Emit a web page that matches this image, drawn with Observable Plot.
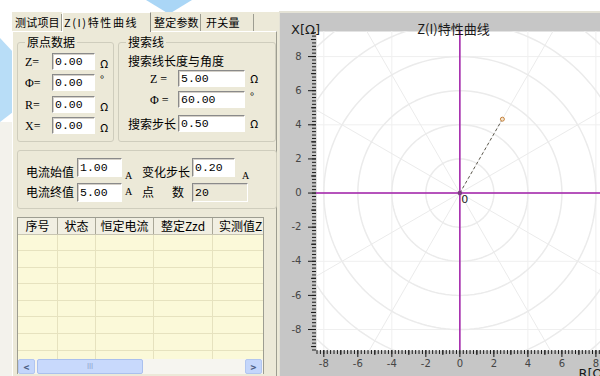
<!DOCTYPE html>
<html><head><meta charset="utf-8">
<script src="https://cdn.jsdelivr.net/npm/d3@7"></script>
<script src="https://cdn.jsdelivr.net/npm/@observablehq/plot@0.6"></script>
<style>
html,body{margin:0;padding:0;background:#fff;}
#root{position:relative;width:600px;height:376px;overflow:hidden;background:#fff;font-family:"Noto Sans CJK SC","Noto Sans",sans-serif;font-size:12px;color:#000;}
.a{position:absolute;box-sizing:border-box;}
.lbl{position:absolute;line-height:16px;white-space:nowrap;}
.inp{position:absolute;box-sizing:border-box;background:#fff;border-top:1px solid #8a8a8a;border-left:1px solid #8a8a8a;border-bottom:1px solid #fff;border-right:1px solid #fff;box-shadow:inset 1px 1px 0 #d4d0c8;font-family:"Liberation Mono","DejaVu Sans Mono",monospace;font-size:11.5px;padding-left:2px;white-space:nowrap;overflow:hidden;}
.grp{position:absolute;box-sizing:border-box;border:1px solid #cfcdbd;border-radius:3px;}
.leg{position:absolute;background:#ece9d8;padding:0 2px;line-height:16px;white-space:nowrap;}
</style></head>
<body><div id="root"></div>
<script>
// ---------- data ----------
const tabs = ["测试项目", "Z(I)特性曲线", "整定参数", "开关量"];
const originLabels = ["Z=", "Φ=", "R=", "X="];
const originValues = ["0.00", "0.00", "0.00", "0.00"];
const originUnits = ["Ω", "°", "Ω", "Ω"];
const searchLabels = ["Z =", "Φ =", "搜索步长"];
const searchValues = ["5.00", "60.00", "0.50"];
const searchUnits = ["Ω", "°", "Ω"];
const searchZ = 5.0;      // Ω
const searchPhi = 60.0;   // degrees
const currentLabels = ["电流始值", "变化步长", "电流终值"];
const currentValues = ["1.00", "0.20", "5.00"];
const pointCount = "20";
const tableHeaders = ["序号", "状态", "恒定电流", "整定Zzd", "实测值Z"];
const xTicks = [-8, -6, -4, -2, 0, 2, 4, 6, 8];
const yTicks = [8, 6, 4, 2, 0, -2, -4, -6, -8];
const gridLines = [-8, -4, 4, 8];
const gridRadii = [2, 4, 6, 8, 10, 12, 14];
const gridAngles = [0, 30, 60, 90, 120, 150, 180, 210, 240, 270, 300, 330];
const chartTitle = "Z(I)特性曲线";
const yLabel = "X[Ω]";
const xLabel = "R[Ω]";

// ---------- left form ----------
const root = document.getElementById("root");
function el(cls, css, text) {
  const d = document.createElement("div");
  d.className = cls;
  Object.assign(d.style, css);
  if (text != null) d.textContent = text;
  root.appendChild(d);
  return d;
}
const px = v => v + "px";
function lbl(t, x, cy, css = {}) { return el("lbl", Object.assign({left: px(x), top: px(cy - 8)}, css), t); }
function inp(t, x, y, w, h, css = {}) { return el("inp", Object.assign({left: px(x), top: px(y), width: px(w), height: px(h), lineHeight: px(h - 2)}, css), t); }

// watermark-ish background shapes
root.insertAdjacentHTML("beforeend",
  '<svg class="a" style="left:0;top:0" width="280" height="376"><polygon points="146,0 192,0 169,14" fill="#aad6f6"/><polygon points="0,38 13,52 13,112 0,122" fill="#b8ddf7"/></svg>');

// form background
el("a", {left: "12px", top: "12px", width: "268px", height: "364px", background: "#ece9d8"});
el("a", {left: "0px", top: "122px", width: "12px", height: "254px", background: "#f3f2ec"});
// tab page border
el("a", {left: "12px", top: "31px", width: "265px", height: "350px", borderTop: "1px solid #fff", borderLeft: "1px solid #fff", borderRight: "1px solid #9d9d91"});
// tabs
const tabX = [13, 62, 151, 201, 254];
const tabTextX = [15, 64, 154, 206];
tabs.forEach((t, i) => {
  const sel = i === 1;
  el("a", {left: px(tabX[i]), top: px(sel ? 12 : 14), width: px(tabX[i + 1] - tabX[i]), height: px(sel ? 20 : 17),
    borderLeft: sel ? "1px solid #fff" : "none", borderTop: sel ? "1px solid #fff" : "none",
    borderRight: "1px solid " + (sel ? "#8a8a80" : "#9d9d91"), background: "#ece9d8"});
  lbl(t, tabTextX[i], 22, {fontSize: "11px", letterSpacing: sel ? "1.6px" : "0.2px"});
});

// group 1: 原点数据
el("grp", {left: "17px", top: "42px", width: "97px", height: "100px"});
el("leg", {left: "25px", top: "34px"}, "原点数据");
const rowTops = [53, 74, 96, 117];
originLabels.forEach((t, i) => {
  lbl(t, 25, rowTops[i] + 9, {fontFamily: "Liberation Serif, serif", fontSize: "12px"});
  inp(originValues[i], 52, rowTops[i], 43, 17);
  lbl(originUnits[i], 100, rowTops[i] + (originUnits[i] === "°" ? 5 : 10), {fontSize: "11px"});
});

// group 2: 搜索线
el("grp", {left: "118px", top: "42px", width: "158px", height: "100px"});
el("leg", {left: "126px", top: "34px"}, "搜索线");
lbl("搜索线长度与角度", 128, 61);
const sTops = [70, 91, 115];
searchLabels.forEach((t, i) => {
  lbl(t, i < 2 ? 150 : 128, sTops[i] + 9, i < 2 ? {fontFamily: "Liberation Serif, serif"} : {});
  inp(searchValues[i], 178, sTops[i], 67, 17);
  lbl(searchUnits[i], 250, sTops[i] + (searchUnits[i] === "°" ? 5 : 8), {fontSize: "11px"});
});

// group 3: currents
el("grp", {left: "17px", top: "150px", width: "260px", height: "59px"});
lbl(currentLabels[0], 26, 172);
inp(currentValues[0], 77, 158, 45, 19);
lbl("A", 125, 176, {fontSize: "10px", fontFamily: "Liberation Serif, serif"});
lbl(currentLabels[1], 142, 172);
inp(currentValues[1], 192, 158, 43, 19);
lbl("A", 242, 176, {fontSize: "10px", fontFamily: "Liberation Serif, serif"});
lbl(currentLabels[2], 26, 192);
inp(currentValues[2], 77, 183, 45, 19);
lbl("A", 125, 192, {fontSize: "10px", fontFamily: "Liberation Serif, serif"});
lbl("点", 142, 192);
lbl("数", 172, 192);
inp(pointCount, 192, 183, 56, 19, {background: "#ece9d8"});

// table
const tbl = el("a", {left: "17px", top: "217px", width: "247px", height: "157px", background: "#fbf9d9", border: "1px solid #9d9d91", overflow: "hidden"});
const colX = [0, 40, 78, 136, 195, 250];
const hdr = document.createElement("div");
Object.assign(hdr.style, {position: "absolute", left: "0", top: "0", width: "247px", height: "16px", background: "#f1efe2", borderBottom: "1px solid #c8c5b2"});
tbl.appendChild(hdr);
tableHeaders.forEach((t, i) => {
  const c = document.createElement("div");
  Object.assign(c.style, {position: "absolute", left: px(colX[i]), top: "0", width: px(colX[i + 1] - colX[i]), height: "16px", lineHeight: "16px", textAlign: "center", whiteSpace: "nowrap", borderRight: "1px solid #a9a797", boxSizing: "border-box", fontSize: "12px"});
  if (i === 4) { c.style.textAlign = "left"; c.style.paddingLeft = "6px"; c.style.width = "70px"; }
  c.textContent = t;
  hdr.appendChild(c);
});
for (let k = 0; k < 7; k++) {
  const r = document.createElement("div");
  Object.assign(r.style, {position: "absolute", left: "0", top: px(32 + k * 16.6), width: "247px", height: "1px", background: "#e6e2bf"});
  tbl.appendChild(r);
}
for (let i = 1; i < 5; i++) {
  const c = document.createElement("div");
  Object.assign(c.style, {position: "absolute", left: px(colX[i] - 1), top: "17px", width: "1px", height: "130px", background: "#e6e2bf"});
  tbl.appendChild(c);
}
// scrollbar
el("a", {left: "18px", top: "359px", width: "245px", height: "15px", background: "#f6f5f0"});
el("a", {left: "18px", top: "359px", width: "17px", height: "15px", background: "#c4d6fb", border: "1px solid #b2c6ef", borderRadius: "2px", color: "#4d6185", fontSize: "10px", lineHeight: "13px", textAlign: "center", fontWeight: "bold"}, "<");
el("a", {left: "37px", top: "359px", width: "106px", height: "15px", background: "#c8d9fc", border: "1px solid #aac0ee", borderRadius: "2px", color: "#8aa0cc", fontSize: "7px", lineHeight: "13px", textAlign: "center"}, "III");
el("a", {left: "245px", top: "359px", width: "17px", height: "15px", background: "#c4d6fb", border: "1px solid #b2c6ef", borderRadius: "2px", color: "#4d6185", fontSize: "10px", lineHeight: "13px", textAlign: "center", fontWeight: "bold"}, ">");

// chart panel border
el("a", {left: "279px", top: "11px", width: "321px", height: "365px", background: "#c6c6c6", borderTop: "2px solid #e4e2d6", borderLeft: "1px solid #e4e2d6"});

// ---------- chart ----------
const rad = Math.PI / 180;
const circlePts = gridRadii.flatMap(r => d3.range(0, 361, 2).map(a => ({r, x: r * Math.cos(a * rad), y: r * Math.sin(a * rad)})));
const spokes = gridAngles.map(a => ({x1: 0, y1: 0, x2: 20 * Math.cos(a * rad), y2: 20 * Math.sin(a * rad)}));
const searchEnd = {x: searchZ * Math.cos(searchPhi * rad), y: searchZ * Math.sin(searchPhi * rad)};
const xMinor = d3.range(-42, 42).map(i => i / 5);
const yMinor = d3.range(-46, 48).map(i => i / 5);
const xMid = d3.range(-7, 9, 2), yMid = d3.range(-9, 10, 2);
const fmt = d => String(d);

const chart = Plot.plot({
  width: 320, height: 363,
  marginLeft: 36, marginTop: 18, marginBottom: 26, marginRight: 0,
  style: {background: "#c6c6c6", fontFamily: "DejaVu Sans, sans-serif", overflow: "visible"},
  x: {domain: [-8.43, 8.27], label: null},
  y: {domain: [-9.23, 9.47], label: null},
  marks: [
    Plot.frame({fill: "white", stroke: null}),
    Plot.ruleX(gridLines, {stroke: "#efefef", clip: true}),
    Plot.ruleY(gridLines, {stroke: "#efefef", clip: true}),
    Plot.line(circlePts, {x: "x", y: "y", z: "r", stroke: "#ebebeb", clip: true}),
    Plot.link(spokes, {x1: "x1", y1: "y1", x2: "x2", y2: "y2", stroke: "#ebebeb", clip: true}),
    Plot.ruleX([0], {stroke: "#a01ca8", strokeWidth: 1.5}),
    Plot.ruleY([0], {stroke: "#a01ca8", strokeWidth: 1.5}),
    Plot.link([searchEnd], {x1: 0, y1: 0, x2: "x", y2: "y", stroke: "#5e5a4e", strokeWidth: 1, strokeDasharray: "3,2.5"}),
    Plot.dot([searchEnd], {x: "x", y: "y", r: 2, stroke: "#c4803a", fill: "#f4e4cc", strokeWidth: 1}),
    Plot.dot([{x: 0, y: 0}], {x: "x", y: "y", r: 1.5, stroke: "#7a3c80", fill: "none"}),
    Plot.text([{x: 0, y: 0, t: "0"}], {x: "x", y: "y", text: "t", dx: 5, dy: 6, fontSize: 11, fill: "#222", textAnchor: "middle"}),
    Plot.axisY(yMinor, {anchor: "left", tickSize: 4, tickFormat: () => "", stroke: "#1a1a1a", label: null}),
    Plot.axisY(yMid, {anchor: "left", tickSize: 5, tickFormat: () => "", stroke: "#1a1a1a", label: null}),
    Plot.axisY(yTicks, {anchor: "left", tickSize: 8, tickFormat: () => "", stroke: "#1a1a1a", label: null}),
    Plot.axisY(yTicks, {anchor: "left", tickSize: 0, tickPadding: 15, tickFormat: fmt, fontSize: 10, fill: "#454545", label: null}),
    Plot.axisX(xMinor, {anchor: "bottom", tickSize: 4, tickFormat: () => "", stroke: "#1a1a1a", label: null}),
    Plot.axisX(xMid, {anchor: "bottom", tickSize: 5, tickFormat: () => "", stroke: "#1a1a1a", label: null}),
    Plot.axisX(xTicks, {anchor: "bottom", tickSize: 7, tickFormat: () => "", stroke: "#1a1a1a", label: null}),
    Plot.axisX(xTicks, {anchor: "bottom", tickSize: 0, tickPadding: 9, tickFormat: fmt, fontSize: 10, fill: "#454545", label: null}),
    Plot.text([chartTitle], {text: d => d, frameAnchor: "top", dx: -5, dy: -7, fontSize: 13, fill: "#1a1a1a", fontFamily: "Noto Sans CJK SC, sans-serif"}),
    Plot.text([yLabel], {text: d => d, frameAnchor: "top-left", dx: -11, dy: -7, fontSize: 13, fill: "#1a1a1a", textAnchor: "middle"}),
    Plot.text([xLabel], {text: d => d, frameAnchor: "bottom-right", dx: -22, dy: 27, fontSize: 13, fill: "#1a1a1a", textAnchor: "start"})
  ]
});
Object.assign(chart.style, {position: "absolute", left: "280px", top: "13px"});
root.appendChild(chart);
</script>
</body></html>
